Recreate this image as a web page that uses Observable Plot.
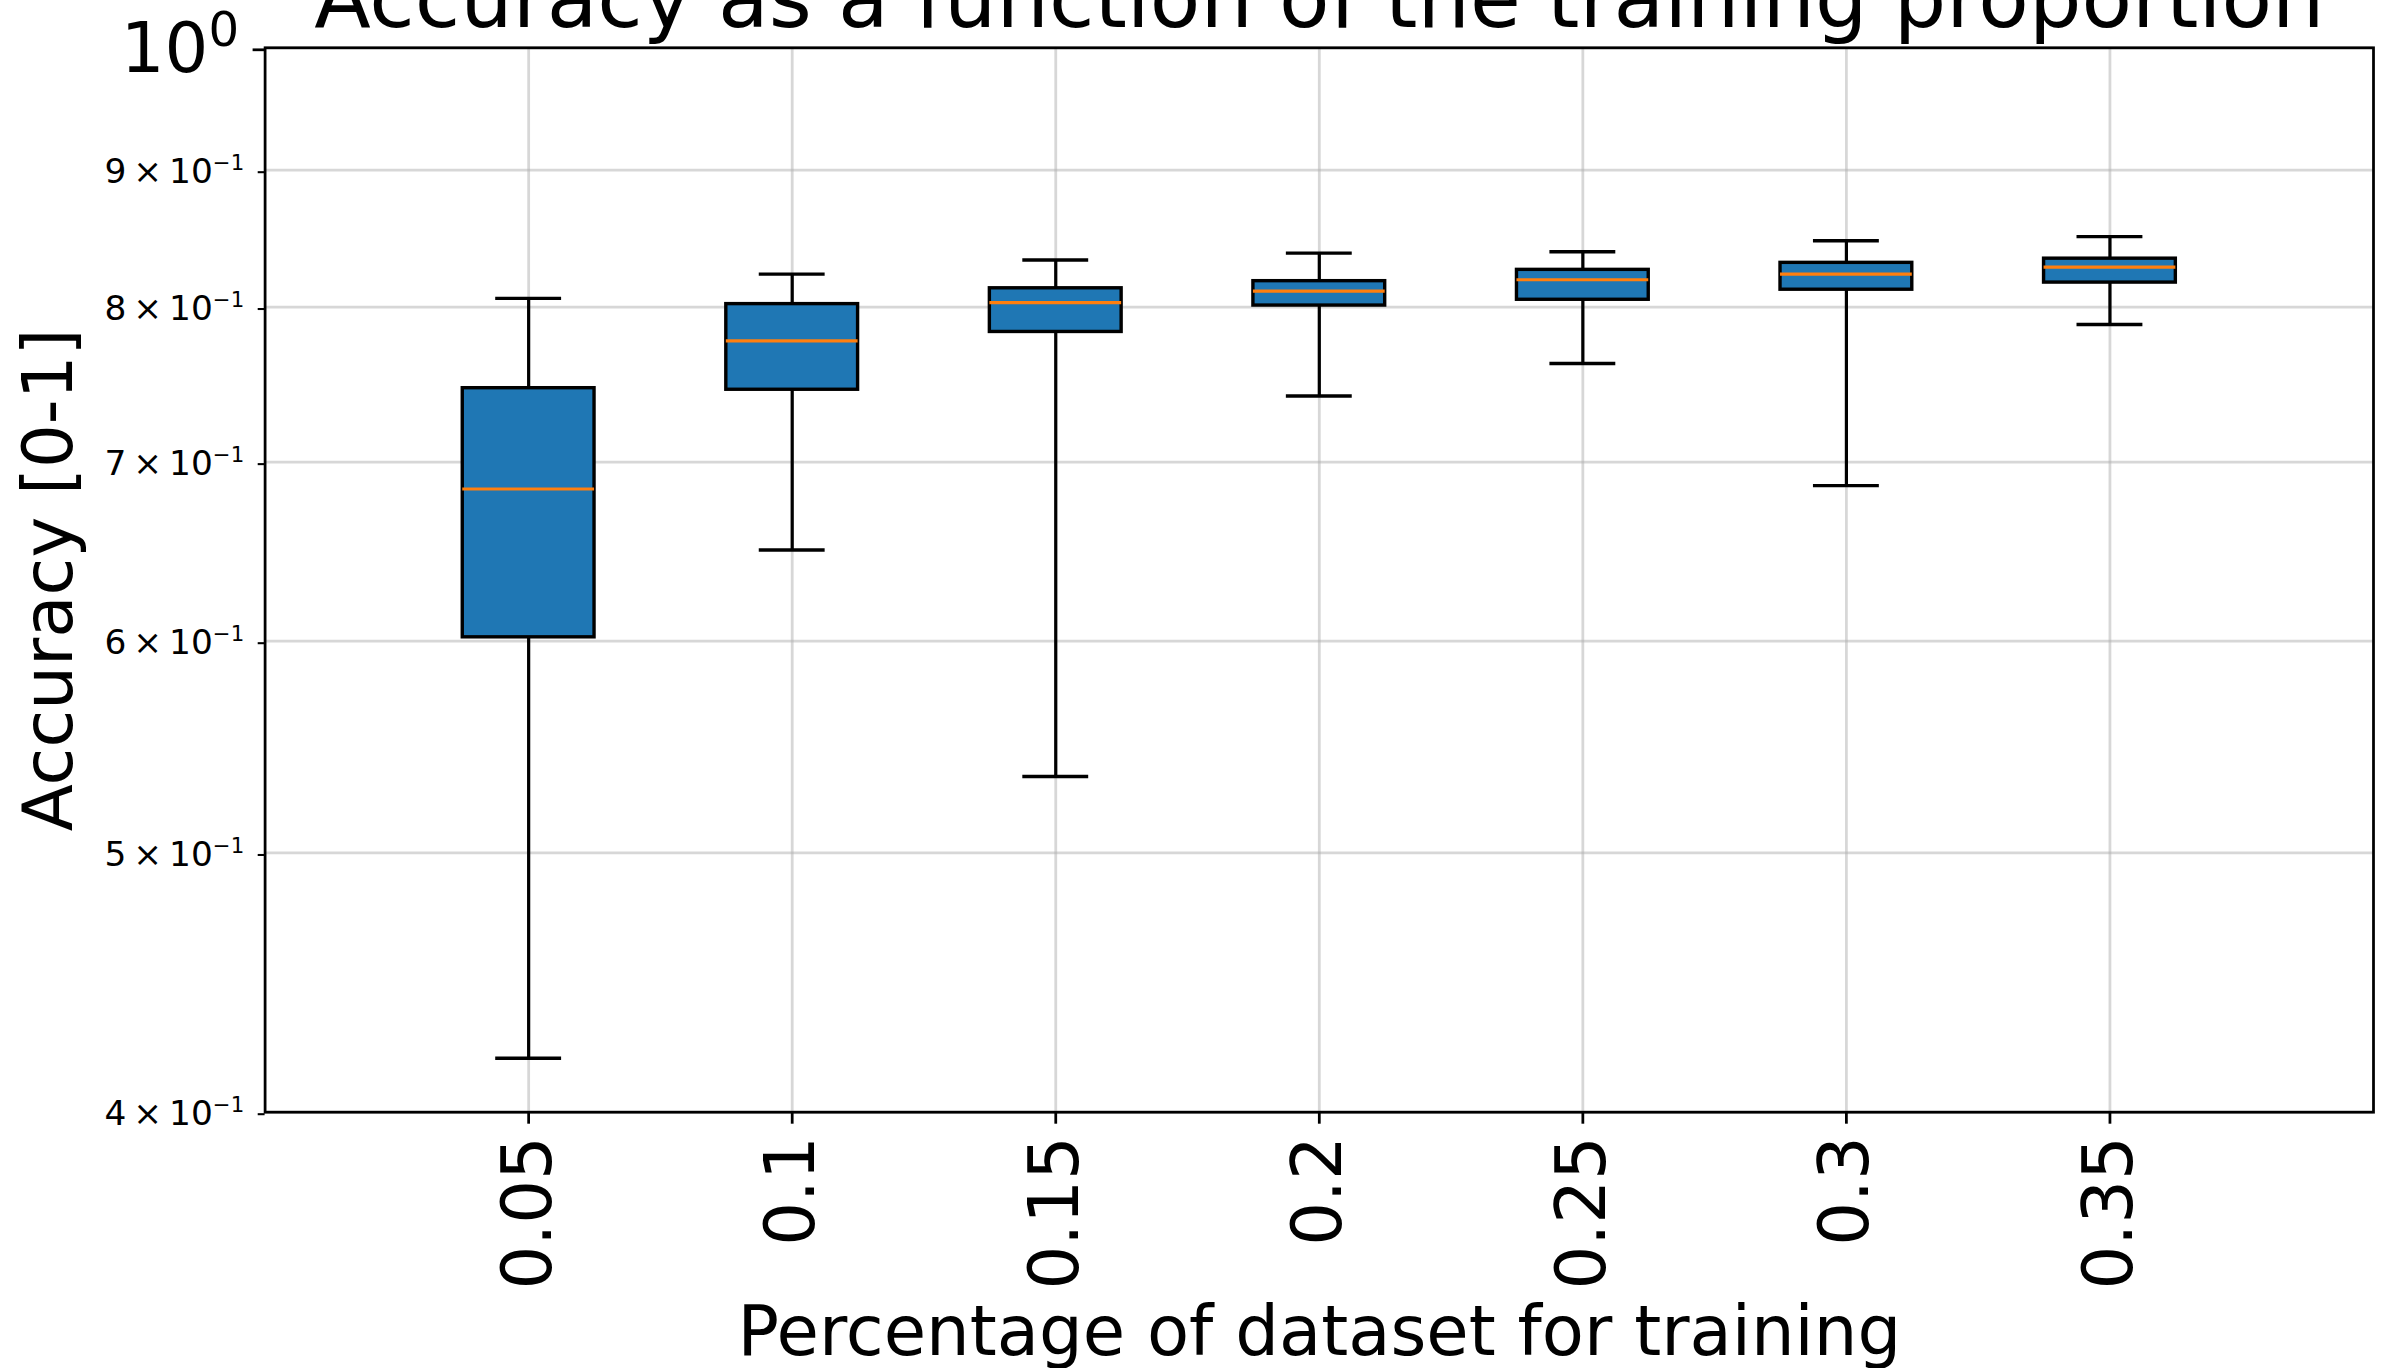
<!DOCTYPE html>
<html>
<head>
<meta charset="utf-8">
<script src="https://cdn.jsdelivr.net/npm/d3@7"></script>
<script src="https://cdn.jsdelivr.net/npm/@observablehq/plot@0.6"></script>
<style>
  html, body { margin: 0; padding: 0; background: white; overflow: hidden; }
  #chart svg { display: block; }
</style>
</head>
<body>
<div id="chart"></div>
<script>
// ---- data ----
const categories   = ["0.05", "0.1", "0.15", "0.2", "0.25", "0.3", "0.35"];
const positions    = [1, 2, 3, 4, 5, 6, 7];
const whiskerLow   = [0.419, 0.649, 0.534, 0.741, 0.762, 0.686, 0.788];
const q1           = [0.602, 0.745, 0.783, 0.801, 0.805, 0.812, 0.817];
const median       = [0.684, 0.777, 0.803, 0.811, 0.819, 0.823, 0.828];
const q3           = [0.746, 0.802, 0.813, 0.818, 0.826, 0.831, 0.834];
const whiskerHigh  = [0.806, 0.823, 0.833, 0.838, 0.839, 0.847, 0.850];

const yMajorTicks      = [1];
const yMajorTickLabels = ["10^0"];
const yMinorTicks      = [0.4, 0.5, 0.6, 0.7, 0.8, 0.9];
const yMinorTickLabels = ["4\u2009×\u200910^−1", "5\u2009×\u200910^−1", "6\u2009×\u200910^−1",
                          "7\u2009×\u200910^−1", "8\u2009×\u200910^−1", "9\u2009×\u200910^−1"];

const titleText  = "Accuracy as a function of the training proportion";
const xLabelText = "Percentage of dataset for training";
const yLabelText = "Accuracy [0-1]";

// ---- table built from the arrays ----
const boxes = categories.map((c, i) => ({
  cat: c, pos: positions[i], lo: whiskerLow[i], q1: q1[i], med: median[i], q3: q3[i], hi: whiskerHigh[i]
}));

const W = 2391, H = 1368;
const mL = 264.6, mR = 18, mT = 47.3, mB = 256.3;
const boxHalf = 0.25, capHalf = 0.125;
const blue = "#1f77b4", orange = "#ff7f0e";

const chart = Plot.plot({
  width: W,
  height: H,
  marginLeft: mL,
  marginRight: mR,
  marginTop: mT,
  marginBottom: mB,
  style: { fontFamily: "DejaVu Sans", background: "white", overflow: "hidden" },
  x: { type: "linear", domain: [0, 8], axis: null },
  y: { type: "log", domain: [0.4, 1], axis: null },
  marks: [
    // grid
    Plot.ruleY([...yMinorTicks, ...yMajorTicks], { stroke: "#b0b0b0", strokeOpacity: 0.5, strokeWidth: 2.76 }),
    Plot.ruleX(positions, { stroke: "#b0b0b0", strokeOpacity: 0.5, strokeWidth: 2.76 }),
    // whiskers
    Plot.ruleX(boxes, { x: "pos", y1: "lo", y2: "q1", stroke: "black", strokeWidth: 3.2 }),
    Plot.ruleX(boxes, { x: "pos", y1: "q3", y2: "hi", stroke: "black", strokeWidth: 3.2 }),
    // caps
    Plot.ruleY(boxes, { y: "lo", x1: d => d.pos - capHalf, x2: d => d.pos + capHalf, stroke: "black", strokeWidth: 3.4 }),
    Plot.ruleY(boxes, { y: "hi", x1: d => d.pos - capHalf, x2: d => d.pos + capHalf, stroke: "black", strokeWidth: 3.4 }),
    // boxes
    Plot.rect(boxes, { x1: d => d.pos - boxHalf, x2: d => d.pos + boxHalf, y1: "q1", y2: "q3",
                       fill: blue, stroke: "black", strokeWidth: 3.4 }),
    // medians
    Plot.ruleY(boxes, { y: "med", x1: d => d.pos - boxHalf, x2: d => d.pos + boxHalf, stroke: orange, strokeWidth: 3.2 }),
    // frame
    Plot.frame({ stroke: "black", strokeWidth: 2.76 }),
    // axes
    Plot.axisX(positions, {
      tickFormat: d => categories[positions.indexOf(d)],
      tickRotate: -90, fontSize: 68.9, tickSize: 12, tickPadding: 12, strokeWidth: 2.76, label: null
    }),
    Plot.axisY(yMajorTicks, {
      tickFormat: d => yMajorTickLabels[yMajorTicks.indexOf(d)],
      fontSize: 68.9, tickSize: 12, tickPadding: 14, strokeWidth: 2.76, label: null, dy: 2
    }),
    Plot.axisY(yMinorTicks, {
      tickFormat: d => yMinorTickLabels[yMinorTicks.indexOf(d)],
      fontSize: 34.4, tickSize: 6.9, tickPadding: 14, strokeWidth: 2.07, label: null, dy: 2
    }),
    // titles
    Plot.text([titleText], { text: d => d, frameAnchor: "top", lineAnchor: "bottom", dy: -20.7, fontSize: 82.7, fill: "black" }),
    Plot.text([xLabelText], { text: d => d, frameAnchor: "bottom", lineAnchor: "bottom", dy: 242.3, fontSize: 68.9, fill: "black" }),
    Plot.text([yLabelText], { text: d => d, frameAnchor: "left", textAnchor: "middle", lineAnchor: "bottom",
                              rotate: -90, dx: -193.6, fontSize: 68.9, fill: "black" })
  ]
});

// mathtext-like superscripts for the log tick labels
const svgNS = "http://www.w3.org/2000/svg";
chart.querySelectorAll("text").forEach(t => {
  if (t.querySelector("tspan")) return;
  const s = t.textContent;
  const k = s.indexOf("^");
  if (k < 0) return;
  const major = s.startsWith("10^");
  const fs = major ? 68.9 : 34.4;
  t.textContent = s.slice(0, k);
  const sup = document.createElementNS(svgNS, "tspan");
  sup.setAttribute("font-size", (fs * (major ? 0.7 : 0.62)).toFixed(1));
  sup.setAttribute("dy", (-fs * 0.38).toFixed(1));
  sup.textContent = s.slice(k + 1);
  t.appendChild(sup);
});

document.getElementById("chart").appendChild(chart);
</script>
</body>
</html>
